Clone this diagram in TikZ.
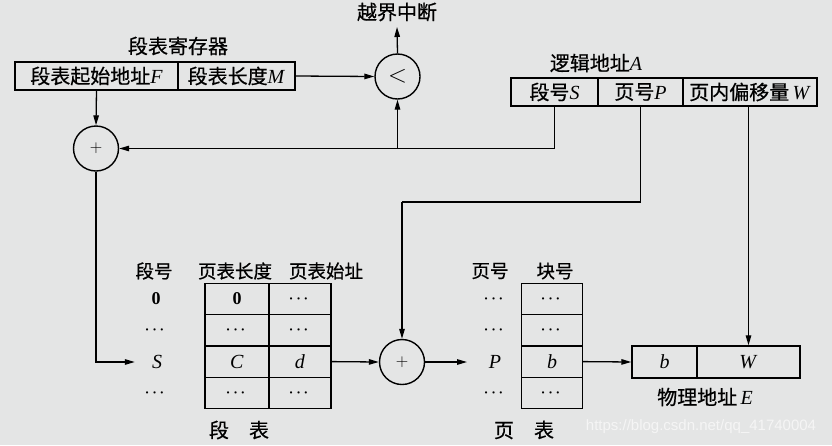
\documentclass[tikz,border=0pt]{standalone}
\usepackage{fontspec}
\setmainfont{Liberation Serif}
\newfontfamily\cjkfont[FakeBold=0.6]{Noto Sans CJK SC}
\newfontfamily\wmfont{Liberation Sans}
\usetikzlibrary{arrows.meta}
\definecolor{bgcol}{RGB}{228,229,229}
\newcommand{\zhtxt}[1]{{\cjkfont #1}}
\newcommand{\dotsx}{{\fontsize{15}{15}\selectfont$\boldsymbol{\cdots}$}}
\usepackage{amsmath}
\usepackage{bm}
\begin{document}
\begin{tikzpicture}[x=1pt,y=-1pt,
  txt/.style={inner sep=0pt, font=\fontsize{20}{22}\selectfont},
  hdr/.style={inner sep=0pt, font=\fontsize{18.5}{20}\selectfont},
  small/.style={inner sep=0pt, font=\fontsize{18}{18}\selectfont},
  cell/.style={draw, line width=1.4pt, inner sep=0pt, font=\fontsize{20}{22}\selectfont},
  tcell/.style={draw, line width=1.4pt, inner sep=0pt, minimum height=31.3, font=\fontsize{20}{22}\selectfont},
  op/.style={circle, draw, line width=1.4pt, minimum size=45, inner sep=0pt},
  arr/.style={-{Triangle[length=10pt,width=5.5pt]}, line width=1.3pt},
  ln/.style={line width=1.3pt}]
\fill[bgcol] (0,0) rectangle (832,445);
\useasboundingbox (0,0) rectangle (832,445);

% segment table register
\node[txt] (hdrReg) at (178,46) {\zhtxt{段表寄存器}};
\node[cell, minimum width=163, minimum height=28] (regF) at (96.5,76) {\zhtxt{段表起始地址}\textit{F}};
\node[cell, minimum width=117, minimum height=28] (regM) at (236.5,76) {\zhtxt{段表长度}\textit{M}};

% compare
\node[op, font=\fontsize{26}{26}\selectfont] (cmp) at (397.5,76.5) {$<$};
\node[txt] (intr) at (397,12) {\zhtxt{越界中断}};
\coordinate (intrEnd) at (397,27);

% logical address
\node[txt] (hdrLog) at (596,63) {\zhtxt{逻辑地址}\textit{A}};
\node[cell, minimum width=87, minimum height=28] (laS) at (554.5,92) {\zhtxt{段号}\textit{S}};
\node[cell, minimum width=85, minimum height=28] (laP) at (640.5,92) {\zhtxt{页号}\textit{P}};
\node[cell, minimum width=134, minimum height=28] (laW) at (750,92) {\zhtxt{页内偏移量}\,\textit{W}};

% adder 1
\node[op, font=\fontsize{16}{16}\selectfont] (add1) at (96,148.5) {$+$};
\coordinate (j1) at (397.5,148.5);

% segment table
\node[hdr] (hSeg) at (154,271) {\zhtxt{段号}};
\node[hdr] (hLen) at (235,271) {\zhtxt{页表长度}};
\node[hdr] (hBase) at (326,271) {\zhtxt{页表始址}};
\node[small] (s0) at (156,299) {\textbf{0}};
\node[small] (s1) at (156,330) {\dotsx};
\node[txt] (sS) at (157,362) {\textit{S}};
\node[small] (s3) at (156,393) {\dotsx};

\node[tcell, minimum width=64] (a1) at (237,299) {\textbf{\fontsize{18}{18}\selectfont 0}};
\node[tcell, minimum width=62] (b1) at (300,299) {\dotsx};
\node[tcell, minimum width=64] (a2) at (237,330.3) {\dotsx};
\node[tcell, minimum width=62] (b2) at (300,330.3) {\dotsx};
\node[tcell, minimum width=64] (a3) at (237,361.6) {\textit{C}};
\node[tcell, minimum width=62] (b3) at (300,361.6) {\textit{d}};
\node[tcell, minimum width=64] (a4) at (237,392.9) {\dotsx};
\node[tcell, minimum width=62] (b4) at (300,392.9) {\dotsx};
\node[txt] (segCap) at (239,430) {\zhtxt{段\quad 表}};

% adder 2
\node[op, font=\fontsize{16}{16}\selectfont] (add2) at (402,362) {$+$};
\coordinate (j2) at (402,202);

% page table
\node[hdr] (hPg) at (490,271) {\zhtxt{页号}};
\node[hdr] (hBlk) at (555,271) {\zhtxt{块号}};
\node[small] (p0) at (495,299) {\dotsx};
\node[small] (p1) at (495,330) {\dotsx};
\node[txt] (pP) at (495,362) {\textit{P}};
\node[small] (p3) at (495,393) {\dotsx};
\node[tcell, minimum width=61] (c1) at (552,299) {\dotsx};
\node[tcell, minimum width=61] (c2) at (552,330.3) {\dotsx};
\node[tcell, minimum width=61] (c3) at (552,361.6) {\textit{b}};
\node[tcell, minimum width=61] (c4) at (552,392.9) {\dotsx};
\node[txt] (pgCap) at (524,430) {\zhtxt{页\quad 表}};

% physical address
\node[cell, minimum width=65, minimum height=32] (phB) at (664.5,362) {\textit{b}};
\node[cell, minimum width=103, minimum height=32] (phW) at (748.5,362) {\textit{W}};
\node[txt] (phCap) at (705,397) {\zhtxt{物理地址}\,\textit{E}};

% watermark
\node[inner sep=0pt, text=white!92!gray, font=\wmfont\fontsize{15}{15}\selectfont] (wm) at (701,427) {https://blog.csdn.net/qq\_41740004};

% connectors
\draw[arr] (regM.east) -- (cmp.west);
\draw[arr] (cmp.north) -- (intrEnd);
\draw[arr] (regF.south) -- (add1.north);
\draw[arr] (laS.south) |- (add1.east);
\draw[arr] (j1) -- (cmp.south);
\draw[arr] (add1.south) |- ([xshift=-17pt]sS.west |- sS.center);
\draw[ln] (laP.south) |- (j2);
\draw[arr] (j2) -- (add2.north);
\draw[arr] (b3.east) -- (add2.west);
\draw[arr] (add2.east) -- ([xshift=-28pt]pP.center);
\draw[arr] (c3.east) -- (phB.west);
\draw[arr] (laW.south -| phW.north) -- (phW.north);
\end{tikzpicture}
\end{document}
